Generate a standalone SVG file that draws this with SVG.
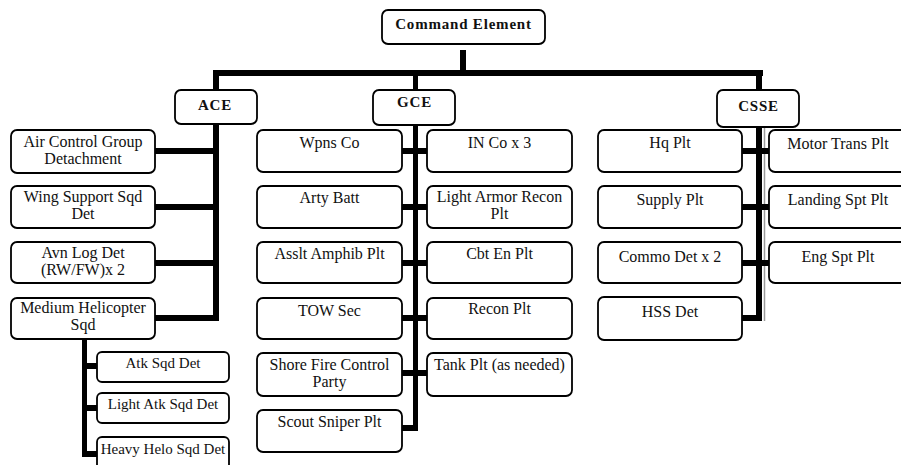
<svg xmlns="http://www.w3.org/2000/svg" width="901" height="465" viewBox="0 0 901 465">
<style>
.box{fill:#fff;stroke:#000;stroke-width:1.8}
text{font-family:'Liberation Serif','Times New Roman',Times,serif;fill:#111;text-anchor:middle}
.t{font-size:16px}
.st{font-size:15px}
.h{font-size:15px;font-weight:bold;letter-spacing:0.8px}
.c{fill:#000}
</style>
<rect width="901" height="465" fill="#fff"/>
<g id="connectors">
  <rect class="c" x="460" y="50" width="6" height="24"/>
  <rect class="c" x="213" y="70" width="550" height="6"/>
  <rect class="c" x="213" y="74" width="6" height="17"/>
  <rect class="c" x="413" y="74" width="5" height="17"/>
  <rect class="c" x="756" y="74" width="6" height="17"/>
  <rect class="c" x="213" y="124" width="6" height="197"/>
  <rect class="c" x="155" y="148" width="60" height="6"/>
  <rect class="c" x="155" y="204" width="60" height="6"/>
  <rect class="c" x="155" y="260" width="60" height="6"/>
  <rect class="c" x="155" y="315" width="60" height="6"/>
  <rect class="c" x="82" y="339" width="5" height="118"/>
  <rect class="c" x="84" y="363" width="14" height="6"/>
  <rect class="c" x="84" y="405" width="14" height="6"/>
  <rect class="c" x="82" y="451" width="16" height="6"/>
  <rect class="c" x="413" y="125" width="5" height="306"/>
  <rect class="c" x="402" y="148" width="26" height="6"/>
  <rect class="c" x="402" y="204" width="26" height="6"/>
  <rect class="c" x="402" y="260" width="26" height="6"/>
  <rect class="c" x="402" y="315" width="26" height="6"/>
  <rect class="c" x="402" y="370" width="26" height="6"/>
  <rect class="c" x="402" y="425" width="16" height="6"/>
  <rect class="c" x="756" y="127" width="6" height="194"/>
  <line x1="764.5" y1="127" x2="764.5" y2="321" stroke="#9a9a9a" stroke-width="1.5"/>
  <rect class="c" x="742" y="148" width="28" height="6"/>
  <rect class="c" x="742" y="204" width="28" height="6"/>
  <rect class="c" x="742" y="260" width="28" height="6"/>
  <rect class="c" x="742" y="315" width="20" height="6"/>
</g>
<g id="command"><rect class="box" x="382" y="10" width="163" height="34" rx="6"/><text class="h" x="463.5" y="29" letter-spacing="0">Command Element</text></g>
<g id="ace"><rect class="box" x="175" y="90" width="82" height="34" rx="6"/><text class="h" x="215" y="110">ACE</text></g>
<g id="gce"><rect class="box" x="373" y="90" width="82" height="35" rx="6"/><text class="h" x="414.5" y="107">GCE</text></g>
<g id="csse"><rect class="box" x="717" y="90" width="82" height="37" rx="6"/><text class="h" x="758.5" y="111">CSSE</text></g>

<g id="ace-acg"><rect class="box" x="11" y="130" width="144" height="43" rx="6"/><text class="t" x="83" y="147">Air Control Group</text><text class="t" x="83" y="164">Detachment</text></g>
<g id="ace-wss"><rect class="box" x="11" y="186" width="144" height="42" rx="6"/><text class="t" x="83" y="202">Wing Support Sqd</text><text class="t" x="83" y="219">Det</text></g>
<g id="ace-avn"><rect class="box" x="11" y="242" width="144" height="41" rx="6"/><text class="t" x="83" y="258">Avn Log Det</text><text class="t" x="83" y="275">(RW/FW)x 2</text></g>
<g id="ace-mhs"><rect class="box" x="11" y="298" width="144" height="41" rx="6"/><text class="t" x="83" y="313">Medium Helicopter</text><text class="t" x="83" y="330">Sqd</text></g>
<g id="ace-atk"><rect class="box" x="97" y="352" width="132" height="30" rx="5"/><text class="st" x="163" y="368">Atk Sqd Det</text></g>
<g id="ace-latk"><rect class="box" x="97" y="393" width="132" height="30" rx="5"/><text class="st" x="163" y="409">Light Atk Sqd Det</text></g>
<g id="ace-hhelo"><rect class="box" x="97" y="437" width="132" height="34" rx="5"/><text class="st" x="163" y="454">Heavy Helo Sqd Det</text></g>

<g id="gce-wpns"><rect class="box" x="257" y="130" width="145" height="42" rx="6"/><text class="t" x="329.5" y="148">Wpns Co</text></g>
<g id="gce-arty"><rect class="box" x="257" y="186" width="145" height="42" rx="6"/><text class="t" x="329.5" y="203">Arty Batt</text></g>
<g id="gce-asslt"><rect class="box" x="257" y="242" width="145" height="41" rx="6"/><text class="t" x="329.5" y="259">Asslt Amphib Plt</text></g>
<g id="gce-tow"><rect class="box" x="257" y="298" width="145" height="41" rx="6"/><text class="t" x="329.5" y="316">TOW Sec</text></g>
<g id="gce-sfcp"><rect class="box" x="257" y="353" width="145" height="43" rx="6"/><text class="t" x="329.5" y="370">Shore Fire Control</text><text class="t" x="329.5" y="387">Party</text></g>
<g id="gce-scout"><rect class="box" x="257" y="410" width="145" height="42" rx="6"/><text class="t" x="329.5" y="427">Scout Sniper Plt</text></g>
<g id="gce-in"><rect class="box" x="427" y="130" width="145" height="42" rx="6"/><text class="t" x="499.5" y="148">IN Co x 3</text></g>
<g id="gce-lar"><rect class="box" x="427" y="186" width="145" height="42" rx="6"/><text class="t" x="499.5" y="202">Light Armor Recon</text><text class="t" x="499.5" y="219">Plt</text></g>
<g id="gce-cbt"><rect class="box" x="427" y="242" width="145" height="41" rx="6"/><text class="t" x="499.5" y="259">Cbt En Plt</text></g>
<g id="gce-recon"><rect class="box" x="427" y="298" width="145" height="41" rx="6"/><text class="t" x="499.5" y="314">Recon Plt</text></g>
<g id="gce-tank"><rect class="box" x="427" y="353" width="145" height="43" rx="6"/><text class="t" x="499.5" y="370">Tank Plt (as needed)</text></g>

<g id="csse-hq"><rect class="box" x="598" y="130" width="144" height="42" rx="6"/><text class="t" x="670" y="148">Hq Plt</text></g>
<g id="csse-supply"><rect class="box" x="598" y="186" width="144" height="42" rx="6"/><text class="t" x="670" y="205">Supply Plt</text></g>
<g id="csse-commo"><rect class="box" x="598" y="242" width="144" height="41" rx="6"/><text class="t" x="670" y="262">Commo Det x 2</text></g>
<g id="csse-hss"><rect class="box" x="598" y="297" width="144" height="43" rx="6"/><text class="t" x="670" y="317">HSS Det</text></g>
<g id="csse-mt"><rect class="box" x="769" y="130" width="150" height="42" rx="6"/><text class="t" x="838" y="149">Motor Trans Plt</text></g>
<g id="csse-land"><rect class="box" x="769" y="186" width="150" height="42" rx="6"/><text class="t" x="838" y="205">Landing Spt Plt</text></g>
<g id="csse-eng"><rect class="box" x="769" y="242" width="150" height="41" rx="6"/><text class="t" x="838" y="262">Eng Spt Plt</text></g>
</svg>
